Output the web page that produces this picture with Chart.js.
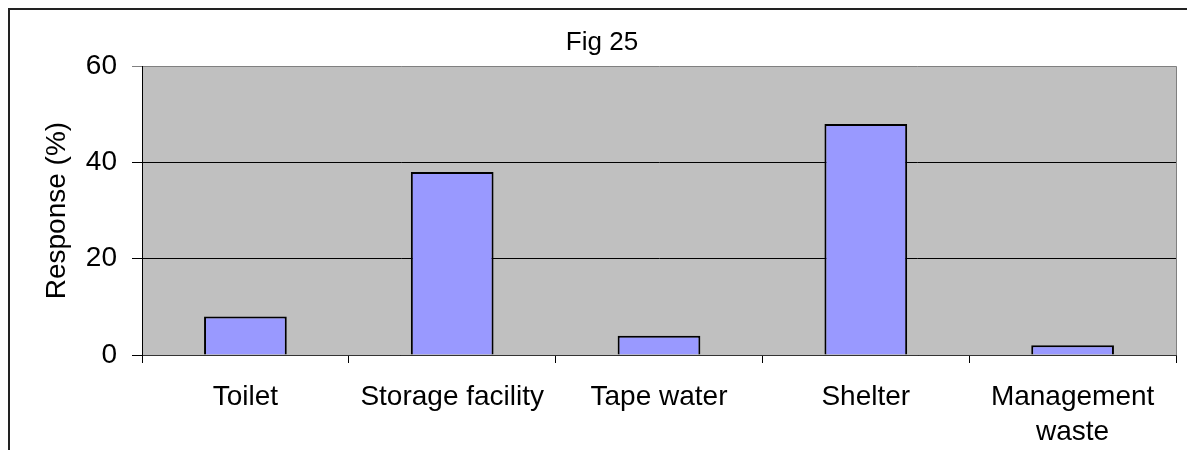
<!DOCTYPE html>
<html>
<head>
<meta charset="utf-8">
<title>Fig 25</title>
<script src="https://cdn.jsdelivr.net/npm/chart.js@4"></script>
<style>
  html, body { margin: 0; padding: 0; background: #fff; }
  #fig25 { display: block; }
</style>
</head>
<body>
<canvas id="fig25" width="1187" height="450"></canvas>
<script>
// Data
const categories = ['Toilet', 'Storage facility', 'Tape water', 'Shelter', ['Management', 'waste']];
const responses = [8, 38, 4, 48, 2];
const yTicks = [0, 20, 40, 60];
const chartTitle = 'Fig 25';
const yTitle = 'Response (%)';

const FONT = '"Liberation Sans", Arial, sans-serif';

// Grey plot area + the outer chart frame (only its top/left edges are in view)
const plotBackground = {
    id: 'plotBackground',
    beforeDraw(chart) {
        const { ctx, chartArea: a } = chart;
        ctx.save();
        ctx.fillStyle = '#fff';
        ctx.fillRect(0, 0, chart.width, chart.height);

        ctx.strokeStyle = '#222';
        ctx.lineWidth = 2;
        ctx.beginPath();
        ctx.moveTo(9, chart.height);
        ctx.lineTo(9, 9);
        ctx.lineTo(chart.width, 9);
        ctx.stroke();

        ctx.fillStyle = '#c0c0c0';
        ctx.fillRect(a.left, a.top, a.width, a.height);
        ctx.strokeStyle = '#808080';
        ctx.lineWidth = 1;
        ctx.beginPath();
        ctx.moveTo(a.right + 0.5, a.top);
        ctx.lineTo(a.right + 0.5, a.bottom);
        ctx.stroke();
        ctx.restore();
    }
};

new Chart(document.getElementById('fig25'), {
    type: 'bar',
    data: {
        labels: categories,
        datasets: [{
            label: yTitle,
            data: responses,
            backgroundColor: '#9999ff',
            borderColor: '#000',
            borderWidth: 2,
            barPercentage: 0.4,
            categoryPercentage: 1.0
        }]
    },
    options: {
        responsive: false,
        animation: false,
        devicePixelRatio: 1,
        layout: { padding: { left: 28, right: 11, top: 0, bottom: 0 } },
        plugins: {
            legend: { display: false },
            tooltip: { enabled: false },
            title: {
                display: true,
                text: chartTitle,
                color: '#000',
                font: { family: FONT, size: 26, weight: 'normal', lineHeight: 1.2 },
                padding: { top: 27, bottom: 8 }
            }
        },
        scales: {
            x: {
                afterFit: (scale) => { scale.height = 95; },
                grid: {
                    display: true,
                    drawOnChartArea: false,
                    drawTicks: true,
                    tickLength: 8,
                    offset: true,
                    color: '#000',
                    lineWidth: 1
                },
                border: { display: true, color: '#333', width: 1 },
                ticks: {
                    color: '#000',
                    font: { family: FONT, size: 28, lineHeight: 1.25 },
                    padding: 17,
                    maxRotation: 0,
                    minRotation: 0,
                    autoSkip: false
                }
            },
            y: {
                min: 0,
                max: 60,
                afterFit: (scale) => { scale.width = 114; },
                afterBuildTicks: (scale) => { scale.ticks = yTicks.map(v => ({ value: v })); },
                grid: {
                    color: (ctx) => ctx.tick && ctx.tick.value === 60 ? '#808080' : '#000',
                    lineWidth: 1,
                    tickLength: 10
                },
                border: { display: true, color: '#000', width: 1 },
                ticks: {
                    color: '#000',
                    font: { family: FONT, size: 28 },
                    padding: 15
                },
                title: {
                    display: true,
                    text: yTitle,
                    color: '#000',
                    font: { family: FONT, size: 28, lineHeight: 1.2 },
                    padding: { top: 12, bottom: 0 }
                }
            }
        }
    },
    plugins: [plotBackground]
});
</script>
</body>
</html>
